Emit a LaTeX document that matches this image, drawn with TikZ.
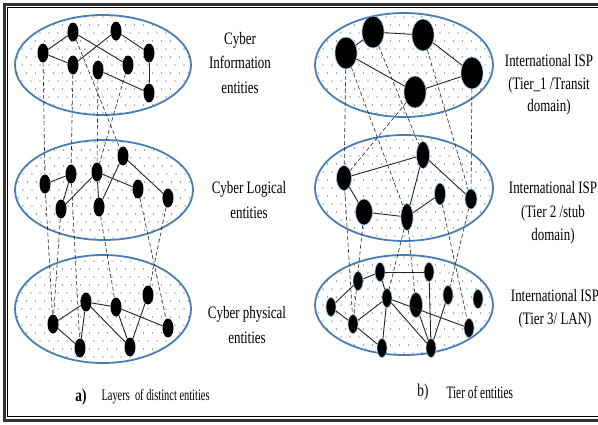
\documentclass[tikz,border=0pt]{standalone}
\usepackage{fontspec}
\setmainfont{Liberation Serif}[FakeStretch=0.74]
\newfontfamily\capfont{Liberation Serif}[FakeStretch=0.65]
\usetikzlibrary{shapes.geometric}
\definecolor{Rim}{HTML}{4A7DB5}
\definecolor{Glow}{HTML}{9DC3E6}
\tikzset{
  ent/.style={ellipse,fill=black,inner sep=0pt,minimum width=11,minimum height=19},
  big/.style={minimum width=22,minimum height=32},
  glow/.style={draw=Glow,line width=0.6pt},
  link/.style={black!85,line width=0.9pt},
  tie/.style={black!85,line width=0.6pt,dash pattern=on 4pt off 2.5pt},
  lab/.style={align=center,font=\fontsize{17.5}{24.5}\selectfont},
}
% one node of a layer: [options]{name}{x}{y}
\newcommand{\Ent}[4][]{%
  \node[ent,#1] (#2) at (#3,#4) {};%
}
% dotted layer: {x}{y}{rx}{ry}
\newcommand{\Layer}[4]{%
  \begin{scope}
    \clip (#1,#2) ellipse [x radius=#3, y radius=#4];
    \foreach \j in {-8,...,8} {
      \foreach \i in {-11,...,11} {
        \fill[black!70] ({#1+9*\i+4.5*mod(\j,2)},{#2+8*\j}) circle (0.6);
      }
    }
  \end{scope}
  \draw[Rim,line width=1.8pt] (#1,#2) ellipse [x radius=#3, y radius=#4];%
}

\begin{document}
\begin{tikzpicture}[x=1pt,y=-1pt]
\useasboundingbox (0,0) rectangle (598,424);
\fill[white] (0,0) rectangle (598,424);
% frame
\draw[black!80,line width=3pt] (4,4) rectangle (602,420);
\draw[black,line width=0.8pt] (7.8,7.8) rectangle (598.5,416.2);

% layers
\Layer{103}{65}{88}{50}
\Layer{104}{190}{89}{50}
\Layer{103}{309}{88}{54}
\Layer{404}{65}{89}{52}
\Layer{404}{188}{89}{53}
\Layer{404}{305}{89}{50}

% a) cyber information
\Ent{ci1}{43}{53}
\Ent{ci2}{73}{32}
\Ent{ci3}{116}{31}
\Ent{ci4}{73}{65}
\Ent{ci5}{98}{70}
\Ent{ci6}{128}{65}
\Ent{ci7}{149}{53}
\Ent{ci8}{149}{93}
% a) cyber logical
\Ent{cl1}{45}{184}
\Ent{cl2}{71}{174}
\Ent{cl3}{97}{172}
\Ent{cl4}{123}{156}
\Ent{cl5}{61}{209}
\Ent{cl6}{99}{207}
\Ent{cl7}{138}{189}
\Ent{cl8}{168}{198}
% a) cyber physical
\Ent{cp1}{53}{324}
\Ent{cp2}{86}{302}
\Ent{cp3}{116}{307}
\Ent{cp4}{148}{295}
\Ent{cp5}{168}{328}
\Ent{cp6}{80}{348}
\Ent{cp7}{130}{347}

% b) tier 1
\Ent[big,glow]{ta1}{346}{53}
\Ent[big,glow]{ta2}{373}{32}
\Ent[big,glow]{ta3}{423}{35}
\Ent[big,glow]{ta4}{472}{73}
\Ent[big,glow]{ta5}{415}{92}
% b) tier 2
\Ent[glow,minimum width=15,minimum height=25]{tb1}{344}{178}
\Ent[glow,minimum width=13,minimum height=27]{tb2}{423}{155}
\Ent[glow,minimum width=17,minimum height=26]{tb3}{364}{212}
\Ent[glow,minimum width=12,minimum height=27]{tb4}{407}{217}
\Ent[glow,minimum width=11,minimum height=22]{tb5}{440}{194}
\Ent[glow,minimum width=12,minimum height=20]{tb6}{471}{199}
% b) tier 3
\Ent[glow,minimum width=10]{tc1}{331}{307}
\Ent[glow,minimum width=10]{tc2}{358}{281}
\Ent[glow,minimum width=10]{tc3}{380}{272}
\Ent[glow,minimum width=10]{tc4}{429}{272}
\Ent[glow,minimum width=10]{tc5}{387}{298}
\Ent[glow,minimum width=13,minimum height=25]{tc6}{416}{305}
\Ent[glow,minimum width=10]{tc7}{448}{295}
\Ent[glow,minimum width=10]{tc8}{478}{299}
\Ent[glow,minimum width=10]{tc9}{353}{324}
\Ent[glow,minimum width=10]{tc10}{469}{328}
\Ent[glow,minimum width=10]{tc11}{382}{348}
\Ent[glow,minimum width=10]{tc12}{431}{348}

% links inside layers
\foreach \a/\b in {ci1/ci2,ci1/ci4,ci2/ci6,ci3/ci4,ci3/ci7,ci7/ci8,ci5/ci8,
  cl1/cl2,cl2/cl5,cl5/cl3,cl3/cl7,cl3/cl6,cl4/cl6,cl4/cl8,
  cp1/cp2,cp1/cp6,cp2/cp3,cp2/cp6,cp2/cp7,cp3/cp5,cp3/cp7,cp4/cp7,
  ta1/ta2,ta2/ta3,ta3/ta4,ta4/ta5,ta1/ta5,
  tb1/tb2,tb1/tb3,tb3/tb4,tb4/tb2,tb4/tb5,tb2/tb6,
  tc1/tc2,tc1/tc9,tc2/tc3,tc3/tc4,tc3/tc5,tc4/tc12,tc5/tc9,tc5/tc11,
  tc5/tc12,tc5/tc10,tc6/tc12,tc7/tc12,tc9/tc11}
  \draw[link] (\a) -- (\b);

% ties between layers
\foreach \a/\b in {ci1/cl1,ci4/cl2,ci2/cl4,ci5/cl3,ci6/cl3,
  cl1/cp1,cl5/cp1,cl2/cp6,cl6/cp3,cl7/cp5,cl8/cp4,
  ta1/tb1,ta1/tb4,ta2/tb2,ta3/tb6,ta4/tb6,ta5/tb1,
  tb1/tc9,tb3/tc9,tb4/tc5,tb4/tc6,tb5/tc10,tb6/tc7}
  \draw[tie] (\a) -- (\b);

% labels
\node[lab] (infoTxt) at (240,63) {Cyber\\Information\\entities};
\node[lab] (logicTxt) at (249,200) {Cyber Logical\\entities};
\node[lab] (physTxt) at (247,325) {Cyber physical\\entities};
\node[lab,font=\fontsize{17.5}{22.5}\selectfont] (tierATxt) at (549,85) {International ISP\\(Tier\_1 /Transit\\domain)};
\node[lab,font=\fontsize{17.5}{23.5}\selectfont] (tierBTxt) at (553,213) {International ISP\\(Tier 2 /stub\\domain)};
\node[lab,font=\fontsize{17.5}{23.5}\selectfont] (tierCTxt) at (555,309) {International ISP\\(Tier 3/ LAN)};

% captions
\node[font=\fontsize{18}{20}\selectfont\bfseries] (capA) at (81,397) {a)};
\node[anchor=west,font=\capfont\fontsize{16}{20}\selectfont] (capAtxt) at (98,397) {Layers\ \ of distinct entities};
\node[font=\fontsize{18}{20}\selectfont] (capB) at (423,392) {b)};
\node[anchor=west,font=\capfont\fontsize{17.5}{20}\selectfont] (capBtxt) at (443,392) {Tier of entities};
\end{tikzpicture}
\end{document}
